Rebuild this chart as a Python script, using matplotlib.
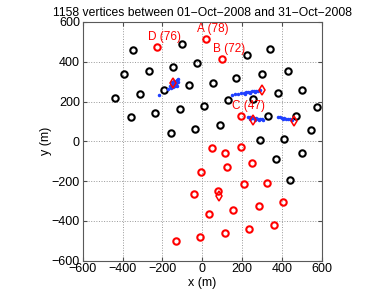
import matplotlib
matplotlib.use('Agg')
import matplotlib.pyplot as plt

plt.rcParams['font.family'] = ['Liberation Sans', 'DejaVu Sans']

# station positions (m)
black_x = [-347, -101, 225, 340, -393, -267, -147, -26, 54, 170, 300, 431,
           -66, -192, -312, -438, 130, 255, 381, 501, -357, -237, -111, 9,
           576, 330, 471, -157, -36, 89, 546, 290, 411, 501, 371, 441]
black_y = [459, 489, 434, 464, 339, 354, 374, 394, 293, 318, 338, 354,
           284, 258, 238, 218, 208, 213, 243, 258, 122, 142, 163, 178,
           173, 127, 127, 42, 62, 82, 57, 7, 12, -58, -89, -194]

red_x = [-227, 19, 99, 195, -6, 49, 114, 195, 248, 125, 210, 325,
         -41, 79, 34, 157, 283, 406, -11, 114, 237, 360, -132]
red_y = [474, 514, 414, 127, -152, -33, -58, -28, -111, -129, -212, -207,
         -267, -250, -365, -345, -325, -305, -481, -463, -443, -423, -501]

# labelled stations: name, number of vertices
labels = ['D (76)', 'A (78)', 'B (72)', 'C (47)']
label_idx = [0, 1, 2, 3]

diamond_x = [-147, 298, 255, 461, 84]
diamond_y = [293, 256, 107, 102, -277]

# vertex locations
blue_x = [-162, -152, -142, -131, -126, -122, -131, -137, -146, -156, -142, -122,
          -126, -152, -172, -217,
          150, 165, 180, 195, 210, 220, 230, 240, 250, 260, 270, 280, 290, 215, 240, 265,
          230, 240, 250, 260, 270, 280, 290, 300, 240, 265, 285, 305,
          381, 391, 401, 411, 421, 431, 441, 451, 406]
blue_y = [278, 283, 288, 298, 308, 313, 288, 278, 273, 268, 303, 298,
          278, 298, 263, 233,
          233, 236, 238, 241, 243, 246, 248, 248, 251, 251, 253, 253, 256, 238, 243, 246,
          122, 120, 117, 117, 115, 112, 112, 112, 112, 107, 105, 107,
          120, 122, 117, 115, 112, 112, 110, 107, 110]

fig = plt.figure(figsize=(3.91, 2.94), dpi=100)
ax = fig.add_axes([0.2115, 0.1133, 0.6113, 0.8119])

ax.plot(black_x, black_y, 'o', color='black', mfc='none', ms=4.6, mew=1.5)
ax.plot(red_x, red_y, 'o', color='red', mfc='none', ms=4.6, mew=1.5)
ax.plot(blue_x, blue_y, '.', color='#2040ff', ms=3)
ax.plot(diamond_x, diamond_y, 'd', color='red', mfc='none', ms=5.5, mew=1.1)

for lab, i in zip(labels, label_idx):
    ax.text(red_x[i] - 45, red_y[i] + 22, lab, color='red', fontsize=8.5,
            ha='left', va='bottom')

ax.set_xlim(-600, 600)
ax.set_ylim(-600, 600)
ax.set_xticks(range(-600, 601, 200))
ax.set_yticks(range(-600, 601, 200))
ax.tick_params(direction='in', length=3, labelsize=9, top=True, right=True,
               color='0.3', pad=2)
ax.grid(True, linestyle=':', color='0.6', linewidth=0.7)
for s in ax.spines.values():
    s.set_color('0.35')
ax.set_xlabel('x (m)', fontsize=9, labelpad=1)
ax.set_ylabel('y (m)', fontsize=9, labelpad=0)
ax.set_title('1158 vertices between 01\u2212Oct\u22122008 and 31\u2212Oct\u22122008',
             fontsize=8.7, pad=4)

fig.savefig('out.png', dpi=100)
